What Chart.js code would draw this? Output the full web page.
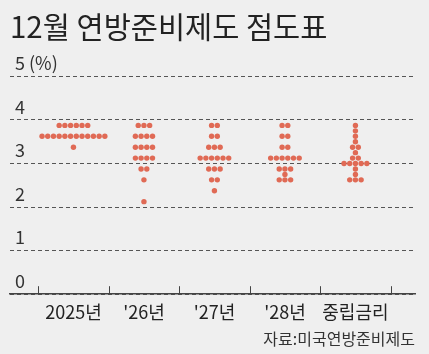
<!DOCTYPE html>
<html>
<head>
<meta charset="utf-8">
<script src="https://cdn.jsdelivr.net/npm/chart.js@4"></script>
<style>
html, body { margin: 0; padding: 0; background: #efefef; }
#wrap { width: 429px; height: 354px; }
</style>
</head>
<body>
<div id="wrap"><canvas id="dotChart"></canvas></div>
<script>
// categories on the x axis
var categories = ['2025년', "'26년", "'27년", "'28년", '중립금리'];

// each participant's projection (%)
var dots2025 = [3.875, 3.875, 3.875, 3.875, 3.875, 3.875,
  3.625, 3.625, 3.625, 3.625, 3.625, 3.625, 3.625, 3.625, 3.625, 3.625, 3.625, 3.625,
  3.375];
var dots2026 = [3.875, 3.875, 3.875, 3.625, 3.625, 3.625, 3.625,
  3.375, 3.375, 3.375, 3.375, 3.125, 3.125, 3.125, 3.125,
  2.875, 2.875, 2.625, 2.125];
var dots2027 = [3.875, 3.875, 3.625, 3.625, 3.375, 3.375, 3.375,
  3.125, 3.125, 3.125, 3.125, 3.125, 3.125,
  2.875, 2.875, 2.875, 2.625, 2.625, 2.375];
var dots2028 = [3.875, 3.875, 3.625, 3.625, 3.375, 3.375,
  3.125, 3.125, 3.125, 3.125, 3.125, 3.125,
  2.875, 2.875, 2.875, 2.75, 2.625, 2.625, 2.625];
var dotsLongRun = [3.875, 3.75, 3.625, 3.5, 3.375, 3.375, 3.25, 3.125, 3.125,
  3.0, 3.0, 3.0, 3.0, 3.0, 2.875, 2.75, 2.625, 2.625, 2.625];

var yTicks = [0, 1, 2, 3, 4, 5];

var FONT = "'Liberation Sans Narrow', 'Noto Sans CJK KR', sans-serif";
var dotColor = '#e06a55';
var dotGap = 0.081; // side-by-side spacing of equal dots, in category units

// stack equal values side by side around the category centre
var allDots = [dots2025, dots2026, dots2027, dots2028, dotsLongRun];
var points = [];
for (var i = 0; i < allDots.length; i++) {
  var counts = {};
  allDots[i].forEach(function (v) { counts[v] = (counts[v] || 0) + 1; });
  for (var v in counts) {
    var n = counts[v];
    for (var k = 0; k < n; k++) {
      points.push({ x: i + (k - (n - 1) / 2) * dotGap, y: parseFloat(v) });
    }
  }
}

// small upward tick marks between categories
var tickMarks = {
  id: 'tickMarks',
  afterDraw: function (chart) {
    var xs = chart.scales.x, ys = chart.scales.y, ctx = chart.ctx;
    var y0 = ys.getPixelForValue(0);
    ctx.save();
    ctx.strokeStyle = '#444';
    ctx.lineWidth = 1;
    for (var i = 0; i <= categories.length; i++) {
      var px = Math.round(xs.getPixelForValue(i - 0.5)) + 0.5;
      ctx.beginPath();
      ctx.moveTo(px, y0);
      ctx.lineTo(px, y0 - 8);
      ctx.stroke();
    }
    ctx.restore();
  }
};

new Chart(document.getElementById('dotChart'), {
  type: 'scatter',
  data: {
    datasets: [{
      data: points,
      backgroundColor: dotColor,
      borderWidth: 0,
      pointRadius: 2.7,
      pointHoverRadius: 2.7
    }]
  },
  options: {
    responsive: true,
    maintainAspectRatio: false,
    animation: false,
    layout: { padding: { left: 10, right: 14, top: 0, bottom: 0 } },
    plugins: {
      legend: { display: false },
      tooltip: { enabled: false },
      title: {
        display: true,
        text: '12월 연방준비제도 점도표',
        align: 'start',
        color: '#222',
        font: { size: 29.5, family: FONT, weight: 'normal' },
        padding: { top: 9, bottom: 32 }
      },
      subtitle: {
        display: true,
        position: 'bottom',
        align: 'end',
        text: '자료:미국연방준비제도',
        color: '#333',
        font: { size: 16, family: FONT },
        padding: { top: 0, bottom: 5 }
      }
    },
    scales: {
      x: {
        type: 'linear',
        min: -0.9,
        max: 4.845,
        afterBuildTicks: function (scale) {
          scale.ticks = categories.map(function (c, i) { return { value: i }; });
        },
        ticks: {
          callback: function (v) { return categories[v]; },
          padding: 7,
          color: '#222',
          autoSkip: false,
          maxRotation: 0,
          font: { size: 18, family: FONT }
        },
        grid: { display: false, drawTicks: false },
        border: { display: true, color: '#444', width: 1.5 }
      },
      y: {
        min: 0,
        max: 5,
        afterBuildTicks: function (scale) {
          scale.ticks = yTicks.map(function (t) { return { value: t }; });
        },
        afterFit: function (scale) { scale.width = 0; },
        ticks: {
          mirror: true,
          labelOffset: -13,
          padding: 5,
          color: '#333',
          font: { size: 18, family: FONT },
          callback: function (v) { return v === 5 ? '5 (%)' : v; }
        },
        grid: { color: '#555', lineWidth: 1, drawTicks: false },
        border: { display: false, dash: [4, 3] }
      }
    }
  },
  plugins: [tickMarks]
});
</script>
</body>
</html>
